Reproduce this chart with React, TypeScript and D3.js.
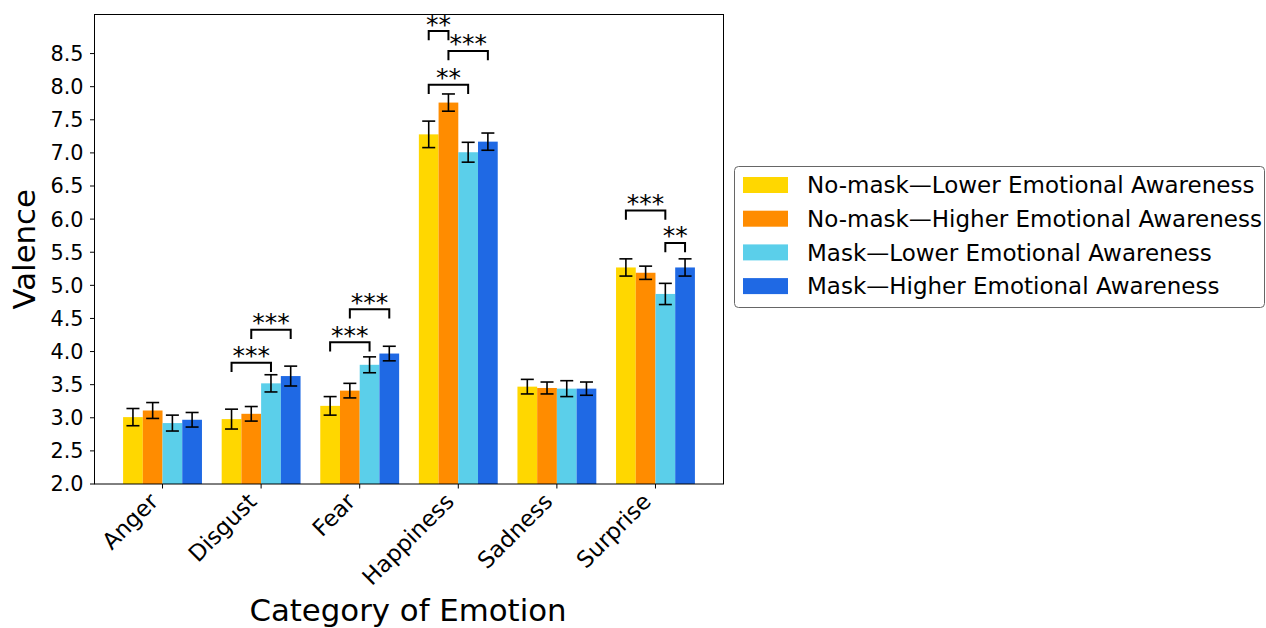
import React from "react";
import * as d3 from "d3";

const categories = ["Anger", "Disgust", "Fear", "Happiness", "Sadness", "Surprise"];
const seriesNames = [
  "No-mask\u2014Lower Emotional Awareness",
  "No-mask\u2014Higher Emotional Awareness",
  "Mask\u2014Lower Emotional Awareness",
  "Mask\u2014Higher Emotional Awareness",
];
const seriesColors = ["#FFD700", "#FF8C00", "#5BCFEA", "#1F69E4"];

const noMaskLower = [3.01, 2.98, 3.18, 7.28, 3.47, 5.27];
const noMaskLowerErr = [0.13, 0.15, 0.14, 0.2, 0.11, 0.13];
const noMaskHigher = [3.11, 3.06, 3.41, 7.76, 3.45, 5.19];
const noMaskHigherErr = [0.12, 0.11, 0.11, 0.13, 0.09, 0.1];
const maskLower = [2.92, 3.52, 3.8, 7.01, 3.44, 4.87];
const maskLowerErr = [0.12, 0.13, 0.12, 0.15, 0.12, 0.16];
const maskHigher = [2.97, 3.63, 3.97, 7.17, 3.44, 5.27];
const maskHigherErr = [0.11, 0.15, 0.11, 0.13, 0.1, 0.13];

const seriesValues = [noMaskLower, noMaskHigher, maskLower, maskHigher];
const seriesErrors = [noMaskLowerErr, noMaskHigherErr, maskLowerErr, maskHigherErr];

const yTicks = [2.0, 2.5, 3.0, 3.5, 4.0, 4.5, 5.0, 5.5, 6.0, 6.5, 7.0, 7.5, 8.0, 8.5];

// significance brackets: category index, from series, to series, bracket top value, label
const sigCats = [1, 1, 2, 2, 3, 3, 3, 5, 5];
const sigFrom = [0, 1, 0, 1, 0, 1, 0, 0, 2];
const sigTo = [2, 3, 2, 3, 2, 3, 1, 2, 3];
const sigLevel = [3.83, 4.33, 4.14, 4.64, 8.03, 8.54, 8.84, 6.13, 5.64];
const sigLabels = ["***", "***", "***", "***", "**", "***", "**", "***", "**"];

const W = 1266;
const H = 628;
const left = 94.5;
const right = 723.5;
const top = 14.5;
const bottom = 484;
const FONT = "DejaVu Sans, sans-serif";

export default function App() {
  const barW = 0.2;
  const x = d3.scaleLinear().domain([-0.69, categories.length - 1 + 0.69]).range([left, right]);
  const y = d3.scaleLinear().domain([2.0, 9.09]).range([bottom, top]);
  const pxPerUnit = x(1) - x(0);
  const barCenter = (i: number, j: number) => i + (j - 1.5) * barW;
  const capHalf = 6.5;
  const legH = 0.14;

  return (
    <svg
      width={W}
      height={H}
      style={{ position: "absolute", left: 0, top: 0, background: "#fff" }}
      fontFamily={FONT}
    >
      <rect x={0} y={0} width={W} height={H} fill="#fff" />
      {/* bars */}
      {seriesValues.map((vals, j) =>
        vals.map((v, i) => (
          <rect
            key={`b${j}-${i}`}
            x={x(barCenter(i, j) - barW / 2)}
            y={y(v)}
            width={barW * pxPerUnit}
            height={y(2.0) - y(v)}
            fill={seriesColors[j]}
          />
        ))
      )}
      {/* error bars */}
      {seriesValues.map((vals, j) =>
        vals.map((v, i) => {
          const cx = x(barCenter(i, j));
          const e = seriesErrors[j][i];
          return (
            <g key={`e${j}-${i}`} stroke="#000" strokeWidth={1.6}>
              <line x1={cx} x2={cx} y1={y(v - e)} y2={y(v + e)} />
              <line x1={cx - capHalf} x2={cx + capHalf} y1={y(v - e)} y2={y(v - e)} />
              <line x1={cx - capHalf} x2={cx + capHalf} y1={y(v + e)} y2={y(v + e)} />
            </g>
          );
        })
      )}
      {/* significance brackets */}
      {sigCats.map((c, k) => {
        const x1 = x(barCenter(c, sigFrom[k]));
        const x2 = x(barCenter(c, sigTo[k]));
        const yt = y(sigLevel[k]);
        const yb = y(sigLevel[k] - legH);
        return (
          <g key={`s${k}`}>
            <path
              d={`M${x1},${yb}L${x1},${yt}L${x2},${yt}L${x2},${yb}`}
              fill="none"
              stroke="#000"
              strokeWidth={2}
            />
            <text
              x={(x1 + x2) / 2}
              y={yt + 1.5}
              textAnchor="middle"
              fontSize={25}
              fill="#000"
            >
              {sigLabels[k]}
            </text>
          </g>
        );
      })}
      {/* frame */}
      <rect x={left} y={top} width={right - left} height={bottom - top} fill="none" stroke="#000" strokeWidth={1} />
      {/* y ticks */}
      {yTicks.map((t) => (
        <g key={`yt${t}`}>
          <line x1={left - 4.5} x2={left} y1={y(t)} y2={y(t)} stroke="#000" strokeWidth={1} />
          <text x={left - 11} y={y(t)} dy="0.36em" textAnchor="end" fontSize={20.8} fill="#000">
            {t.toFixed(1)}
          </text>
        </g>
      ))}
      {/* x ticks */}
      {categories.map((c, i) => (
        <g key={`xt${c}`}>
          <line x1={x(i)} x2={x(i)} y1={bottom} y2={bottom + 4.5} stroke="#000" strokeWidth={1} />
          <text
            transform={`translate(${x(i) - 3},${bottom + 19}) rotate(-45)`}
            textAnchor="end"
            fontSize={22.7}
            fill="#000"
          >
            {c}
          </text>
        </g>
      ))}
      {/* axis labels */}
      <text
        transform={`translate(35,${(top + bottom) / 2}) rotate(-90)`}
        textAnchor="middle"
        fontSize={30.8}
        fill="#000"
      >
        Valence
      </text>
      <text x={(left + right) / 2 - 1} y={621} textAnchor="middle" fontSize={30.8} fill="#000">
        Category of Emotion
      </text>
      {/* legend */}
      <rect x={734.5} y={166.5} width={530} height={141} rx={4} fill="#fff" stroke="#666" strokeWidth={1} />
      {seriesNames.map((n, j) => {
        const cy = 185 + j * 33.7;
        return (
          <g key={`l${j}`}>
            <rect x={743} y={cy - 8} width={45} height={16} fill={seriesColors[j]} />
            <text x={807} y={cy} dy="0.36em" fontSize={23.0} fill="#000">
              {n}
            </text>
          </g>
        );
      })}
    </svg>
  );
}
